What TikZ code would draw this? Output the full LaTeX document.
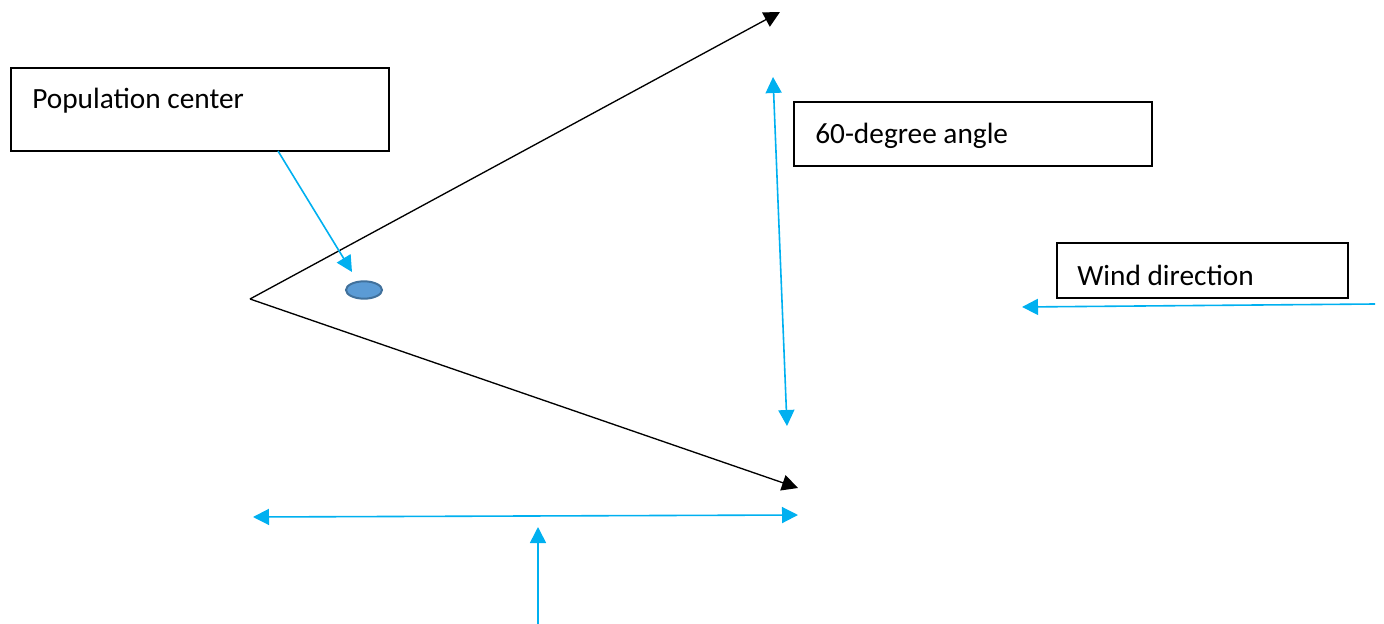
\documentclass[tikz,border=0pt]{standalone}
\usepackage{fontspec}
\setmainfont{Carlito}
\usetikzlibrary{arrows.meta,shapes.geometric}
\definecolor{cyanblue}{HTML}{00B0F0}
\definecolor{ellfill}{HTML}{5B9BD5}
\definecolor{elldraw}{HTML}{41719C}
\tikzset{
  boxline/.style={line width=1.5pt},
  boxtext/.style={anchor=west, font=\fontsize{22}{26}\selectfont, inner sep=0pt},
  blk/.style={draw=black, line width=1pt, -{Triangle[length=12pt,width=12pt]}},
  blu/.style={draw=cyanblue, line width=1.2pt, -{Triangle[length=12pt,width=12pt]}},
  blub/.style={draw=cyanblue, line width=1.2pt, {Triangle[length=12pt,width=12pt]}-{Triangle[length=12pt,width=12pt]}},
}
\begin{document}
\begin{tikzpicture}[x=0.75pt,y=-0.75pt]
\useasboundingbox (0,0) rectangle (1384,624);
% boxes
\draw[boxline] (11,68) rectangle (389,151);
\node[boxtext] (pop) at (32,101) {Population center};
\coordinate (popb) at (278,151);
\draw[boxline] (794,102) rectangle (1152,166);
\node[boxtext] (ang) at (815,136) {60-degree angle};
\draw[boxline] (1057,243) rectangle (1348,298);
\node[boxtext] (wind) at (1077,275) {Wind direction};
% apex and rays
\coordinate (apex) at (250,299);
\coordinate (top) at (780,12);
\coordinate (bot) at (798,488);
\draw[blk] (apex) -- (top);
\draw[blk] (apex) -- (bot);
% population center dot
\node[ellipse, draw=elldraw, fill=ellfill, line width=1.5pt, minimum width=27pt, minimum height=13pt, inner sep=0pt] (dot) at (364,290) {};
\coordinate (popt) at (352,272);
\draw[blu] (popb) -- (popt);
% vertical double arrow
\coordinate (v1) at (773,77);
\coordinate (v2) at (787,426);
\draw[blub] (v1) -- (v2);
% horizontal double arrow
\coordinate (h1) at (253,517);
\coordinate (h2) at (798,515);
\draw[blub] (h1) -- (h2);
% up arrow
\coordinate (u1) at (538,624);
\coordinate (u2) at (538,527);
\draw[blu] (u1) -- (u2);
% wind arrow
\coordinate (w1) at (1375,304);
\coordinate (w2) at (1022,307);
\draw[blu] (w1) -- (w2);
\end{tikzpicture}
\end{document}
